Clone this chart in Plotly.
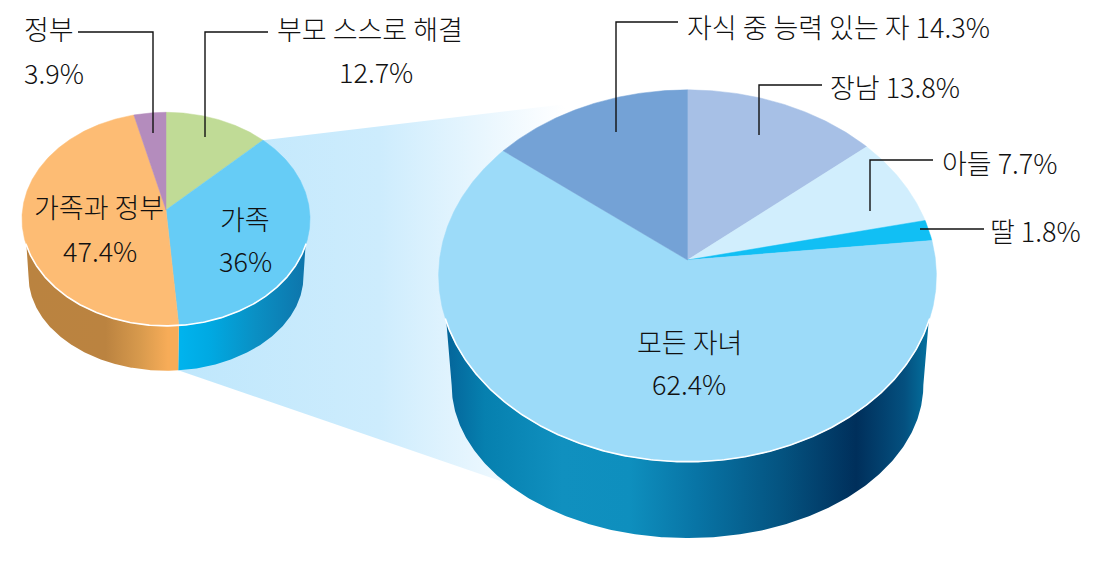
import math
import numpy as np
import plotly.graph_objects as go

# ---- data ----
left_labels = ["부모 스스로 해결", "가족", "가족과 정부", "정부"]
left_values = [12.7, 36, 47.4, 3.9]
right_labels = ["장남", "아들", "딸", "모든 자녀", "자식 중 능력 있는 자"]
right_values = [13.8, 7.7, 1.8, 62.4, 14.3]

# ---- styles ----
left_colors = ["#C0DB96", "#66CCF6", "#FDBC74", "#B48CBD"]
right_colors = ["#A7C0E6", "#D1EEFD", "#11BFF4", "#9CDBF9", "#74A2D6"]
left_side = {
    1: [[0, "#00B4EE"], [0.25, "#00A9E2"], [0.6, "#0A90C4"], [1, "#0E75AB"]],
    2: [[0, "#BA8340"], [0.52, "#BB8340"], [0.75, "#D89A4D"], [0.93, "#F7AC58"], [1, "#F7AC58"]],
}
right_side = {
    3: [[0, "#04659A"], [0.08, "#0680AF"], [0.24, "#1090BF"], [0.38, "#0E8FBE"], [0.52, "#0874A5"],
        [0.70, "#04527F"], [0.85, "#002F5B"], [0.95, "#04507F"], [1, "#04719F"]],
}
band_scale = [[0, "#BFE7FC"], [0.52, "#CDECFD"], [0.78, "#E8F6FE"], [0.95, "#FAFDFF"], [1, "#FFFFFF"]]
FONT = "Noto Sans CJK KR, sans-serif"
FS = 27

K = 0.085  # perspective of the tilted discs
SIDE_START = 109.0


def project(g, theta, top=True):
    t = np.radians(theta)
    w = 1 + K * np.cos(t)
    if top:
        return g["cx"] + g["A"] * np.sin(t) / w, g["cy"] - g["B"] * np.cos(t) / w
    return g["cx"] + g["A2"] * np.sin(t) / w, g["cy2"] - g["B2"] * np.cos(t) / w


def arc(g, a, b, top=True):
    th = np.linspace(a, b, max(int(abs(b - a) * 2), 2))
    return project(g, th, top)


def pie(fig, g, values, colors, side):
    total = sum(values)
    edges = np.cumsum([0] + list(values)) / total * 360
    wide = 90 + math.degrees(math.asin(K))
    # side walls
    for i, scale in side.items():
        a, b = edges[i], edges[i + 1]
        ra, rb = max(a, SIDE_START), min(b, 360 - SIDE_START)
        ba = a if a > SIDE_START else wide
        bb = b if b < 360 - SIDE_START else 360 - wide
        x1, y1 = arc(g, ra, rb)
        x2, y2 = arc(g, bb, ba, top=False)
        xs = np.concatenate([x1, x2])
        ys = np.concatenate([y1, y2])
        fig.add_trace(go.Scatter(
            x=xs, y=ys, mode="lines", fill="toself", line=dict(width=0),
            fillgradient=dict(type="horizontal", colorscale=scale,
                              start=float(xs.min()), stop=float(xs.max())),
            hoverinfo="skip", showlegend=False))
    # top face
    for i, c in enumerate(colors):
        x, y = arc(g, edges[i], edges[i + 1])
        x = np.concatenate([[g["cx"]], x, [g["cx"]]])
        y = np.concatenate([[g["cy"]], y, [g["cy"]]])
        fig.add_trace(go.Scatter(x=x, y=y, mode="lines", fill="toself", fillcolor=c,
                                 line=dict(width=0.5, color=c), hoverinfo="skip", showlegend=False))
    # white rim between the face and the wall
    x, y = arc(g, SIDE_START - 1, 360 - SIDE_START + 1)
    fig.add_trace(go.Scatter(x=x, y=y, mode="lines", line=dict(color="white", width=1.6),
                             hoverinfo="skip", showlegend=False))
    return edges


LEFT = dict(cx=166, cy=210, A=143.5, B=106, A2=137, cy2=268, B2=94)
RIGHT = dict(cx=687.5, cy=260, A=248, B=184.6, A2=235, cy2=372, B2=152)

fig = go.Figure()

# band that links the two discs
ledges = np.cumsum([0] + left_values) / sum(left_values) * 360
tx, ty = project(LEFT, ledges[1])
bx, by = project(LEFT, ledges[2], top=False)
ex, ety, eby = 600.0, 100.0, 515.0
fig.add_trace(go.Scatter(
    x=[float(tx), ex, ex, float(bx), float(tx)], y=[float(ty), ety, eby, float(by), float(ty)],
    mode="lines", fill="toself", line=dict(width=0),
    fillgradient=dict(type="horizontal", colorscale=band_scale, start=float(bx), stop=565.0),
    hoverinfo="skip", showlegend=False))

pie(fig, LEFT, left_values, left_colors, left_side)
pie(fig, RIGHT, right_values, right_colors, right_side)

# leader lines
leaders = [
    ([78, 153, 153], [32, 32, 133]),
    ([268, 205, 205], [32, 32, 137]),
    ([678, 616, 616], [22, 22, 132]),
    ([822, 759, 759], [85, 85, 135]),
    ([933, 870, 870], [160, 160, 211]),
    ([984, 920], [229, 229]),
]
for lx, ly in leaders:
    fig.add_trace(go.Scatter(x=lx, y=ly, mode="lines", line=dict(color="#111111", width=1.4),
                             hoverinfo="skip", showlegend=False))


def pct(v):
    return f"{v:g}%"


def label(x, y, text, anchor="center"):
    fig.add_annotation(x=x, y=y, text=text, showarrow=False, xanchor=anchor, yanchor="middle",
                       font=dict(family=FONT, size=FS, color="#111111", weight=300))


label(22, 28, left_labels[3], "left")
label(22, 72, pct(left_values[3]), "left")
label(370, 28, left_labels[0])
label(376, 71, pct(left_values[0]))
label(99, 206, left_labels[2])
label(100, 250, pct(left_values[2]))
label(245, 218, left_labels[1])
label(245, 260, pct(left_values[1]))
label(689, 341, right_labels[3])
label(689, 383, pct(right_values[3]))
label(685, 26, f"{right_labels[4]} {pct(right_values[4])}", "left")
label(828, 86, f"{right_labels[0]} {pct(right_values[0])}", "left")
label(940, 162, f"{right_labels[1]} {pct(right_values[1])}", "left")
label(988, 230, f"{right_labels[2]} {pct(right_values[2])}", "left")

fig.update_layout(
    width=1101, height=562, margin=dict(l=0, r=0, t=0, b=0),
    paper_bgcolor="white", plot_bgcolor="white", showlegend=False,
    xaxis=dict(range=[0, 1101], visible=False, fixedrange=True),
    yaxis=dict(range=[562, 0], visible=False, fixedrange=True),
)
fig.write_html("out.html", config={"displayModeBar": False},
               post_script="document.body.style.margin='0';document.documentElement.style.overflow='hidden';")
